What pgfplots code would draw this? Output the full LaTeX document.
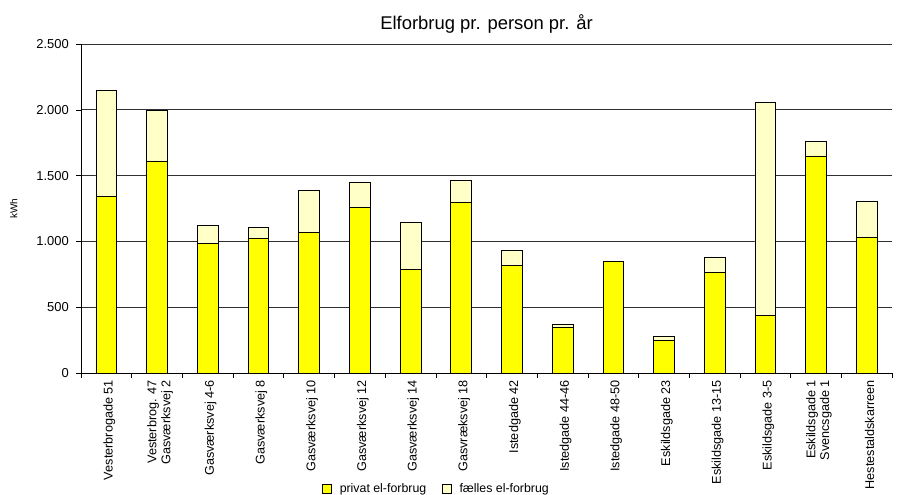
\documentclass[border=0pt]{standalone}
\usepackage{pgfplots}
\pgfplotsset{compat=1.18}
\usepackage{fontspec}
\setmainfont{Liberation Sans}
\definecolor{privat}{HTML}{FFFF00}
\definecolor{faelles}{HTML}{FFFFC8}
\definecolor{gridc}{HTML}{303030}
\begin{document}
\begin{tikzpicture}
\begin{axis}[
  at={(0,0)}, anchor=south west,
  scale only axis,
  width=811bp, height=329bp,
  ybar stacked,
  bar width=0.41,
  xmin=-0.5, xmax=15.5,
  ymin=0, ymax=2500,
  ytick={0,500,1000,1500,2000,2500},
  yticklabels={0,500,1.000,1.500,2.000,2.500},
  xtick={0,...,15},
  xticklabels={Vesterbrogade 51,{Vesterbrog. 47\\Gasværksvej 2},Gasværksvej 4-6,Gasværksvej 8,Gasværksvej 10,Gasværksvej 12,Gasværksvej 14,Gasvræksvej 18,Istedgade 42,Istedgade 44-46,Istedgade 48-50,Eskildsgade 23,Eskildsgade 13-15,Eskildsgade 3-5,{Eskildsgade 1\\Svencsgade 1},Hestestaldskarreen},
  minor xtick={-0.5,0.5,...,15.5},
  major x tick style={draw=none},
  minor x tick style={black, line width=0.6bp},
  minor tick length=5bp,
  major tick length=5bp,
  tick align=outside,
  y tick style={black, line width=0.6bp},
  xtick pos=bottom, ytick pos=left,
  axis x line*=bottom, axis y line*=left,
  axis line style={black, line width=0.8bp, -},
  ymajorgrids,
  major grid style={gridc, line width=0.8bp},
  /pgf/number format/assume math mode=true,
  xticklabel style={rotate=90, anchor=east, align=right, font=\fontsize{12.7}{14}\selectfont, inner sep=2bp, yshift=-3bp},
  yticklabel style={font=\fontsize{13}{14}\selectfont, inner sep=2bp, xshift=-5bp},
  ylabel={kWh},
  ylabel style={at={(axis description cs:-0.083,0.5)}, anchor=center, font=\fontsize{10}{12}\selectfont},
  title={Elforbrug pr. person pr. år},
  title style={at={(axis description cs:0.5,1)}, anchor=south, yshift=1bp, font=\fontsize{18.5}{20}\selectfont},
  legend columns=2,
  legend style={draw=none, fill=none, at={(axis description cs:0.4385,-0.353)}, anchor=center, font=\fontsize{12.4}{13}\selectfont, /tikz/every even column/.append style={column sep=14bp}},
  legend image code/.code={\draw[#1, draw=black, line width=0.6bp] (0bp,-4.5bp) rectangle (9bp,4.5bp); \path[draw=none, fill=none] (0bp,0bp) -- (15bp,0bp);},
]
\addplot[fill=privat, draw=black, line width=0.6bp] coordinates {
 (0,1340) (1,1608) (2,985) (3,1023) (4,1066) (5,1259) (6,790) (7,1294)
 (8,818) (9,347) (10,849) (11,248) (12,767) (13,438) (14,1649) (15,1028)};
\addlegendentry{privat el-forbrug}
\addplot[fill=faelles, draw=black, line width=0.6bp] coordinates {
 (0,810) (1,390) (2,137) (3,84) (4,324) (5,187) (6,357) (7,173)
 (8,117) (9,20) (10,0) (11,28) (12,112) (13,1619) (14,109) (15,274)};
\addlegendentry{fælles el-forbrug}
\end{axis}
\pgfresetboundingbox
\path[use as bounding box] (-81bp,-122bp) rectangle (817bp,373bp);
\end{tikzpicture}
\end{document}
